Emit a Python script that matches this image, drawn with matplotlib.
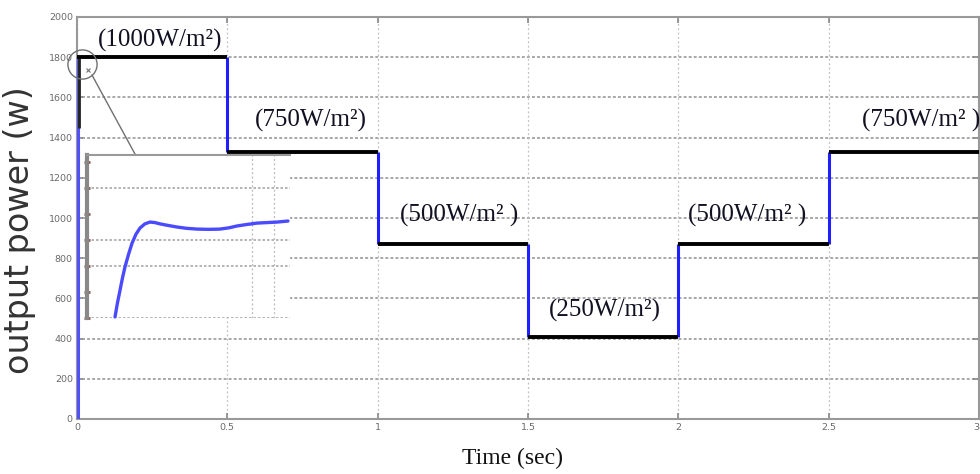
import matplotlib
matplotlib.use("Agg")
import matplotlib.pyplot as plt

# ---- data ----
step_times = [0.0, 0.5, 1.0, 1.5, 2.0, 2.5, 3.0]
step_levels = [1800, 1330, 870, 410, 870, 1330]
irr_labels = ["(1000W/m²)", "(750W/m²)", "(500W/m² )", "(250W/m²)", "(500W/m² )", "(750W/m² )"]
label_t = [0.276, 0.777, 1.272, 1.757, 2.229, 2.807]
label_p = [1885, 1487, 1015, 542, 1015, 1487]
y_ticks = list(range(0, 2001, 200))
x_ticks = [0, 0.5, 1, 1.5, 2, 2.5, 3]
x_ticklabels = ["0", "0.5", "1", "1.5", "2", "2.5", "3"]

# inset (zoomed start-up transient, arbitrary units)
inset_x = [0.138, 0.150, 0.163, 0.175, 0.187, 0.205, 0.222, 0.241, 0.261, 0.285, 0.310, 0.335, 0.360,
           0.400, 0.443, 0.490, 0.542, 0.600, 0.655, 0.700, 0.739, 0.790, 0.837, 0.886, 0.936, 0.990]
inset_y = [0.04, 0.58, 1.08, 1.55, 1.96, 2.46, 2.88, 3.22, 3.46, 3.62, 3.69, 3.67, 3.62,
           3.56, 3.50, 3.45, 3.42, 3.41, 3.42, 3.47, 3.54, 3.60, 3.65, 3.67, 3.69, 3.73]
inset_hgrid = [0, 2, 3, 5]
inset_vgrid = [0.813, 0.921]
inset_yticks = [0, 1, 2, 3, 4, 5, 6]

BLUE = "#2020ff"
SERIF = ["Liberation Serif", "DejaVu Serif"]

fig = plt.figure(figsize=(9.8, 4.74), dpi=100)
ax = fig.add_axes([77/980, 1-419/474, 902/980, (419-17)/474])
ax.set_xlim(0, 3)
ax.set_ylim(0, 2000)

# grid
for y in y_ticks:
    ax.axhline(y, color="#a8a8a8", lw=1.4, ls=(0, (1.5, 1.1)), zorder=1)
for x in x_ticks:
    ax.axvline(x, color="#c0c0c0", lw=0.9, ls=(0, (1.5, 2.0)), zorder=1)

# main step response
ax.hlines(step_levels, step_times[:-1], step_times[1:], color="black", lw=2.8, zorder=4)
trans_t = step_times[1:-1]
lo = [min(a, b) for a, b in zip(step_levels[:-1], step_levels[1:])]
hi = [max(a, b) for a, b in zip(step_levels[:-1], step_levels[1:])]
ax.vlines(trans_t, lo, hi, color=BLUE, lw=2.2, zorder=3)
ax.vlines([0.004], [0], [step_levels[0]], color="#5050ff", lw=2.2, zorder=3)
ax.vlines([0.006], [1450], [step_levels[0]], color="#222222", lw=2.0, zorder=3)

# zoom circle and connector
ax.plot([0.017], [1765], marker="o", ms=21, mfc="none", mec="#707070", mew=1.0, zorder=6, clip_on=False)
ax.plot([0.036], [1735], marker="x", ms=3, mec="#707070", mew=0.8, zorder=6)
ax.plot([0.05, 0.193], [1711, 1318], color="#707070", lw=1.0, zorder=6)

# labels
for s, t, p in zip(irr_labels, label_t, label_p):
    ax.text(t, p, s, family=SERIF, fontsize=18, color="#111122",
            ha="center", va="center", zorder=7, clip_on=False)

ax.set_xticks(x_ticks)
ax.set_xticklabels(x_ticklabels)
ax.get_xticklabels()[-1].set_horizontalalignment("right")
ax.set_yticks(y_ticks)
ax.tick_params(direction="in", length=4, width=1.2, color="#888888",
               labelsize=6.8, labelcolor="#6a6a6a", top=True, right=True, pad=3)
for sp in ax.spines.values():
    sp.set_color("#999999")
    sp.set_linewidth(1.5)

fig.text(20/980, 1-230/474, "output power (w)", rotation=90, family="DejaVu Sans",
         fontsize=24, color="#333333", ha="center", va="center")
fig.text(512/980, 1-458/474, "Time (sec)", family=SERIF, fontsize=17,
         color="#111111", ha="center", va="center")

# inset
ins = fig.add_axes([87/980, 1-318/474, 203/980, 163/474])
ins.set_facecolor("white")
ins.set_zorder(5)
ins.set_xlim(0, 1)
ins.set_ylim(0, 6.27)
for y in inset_hgrid:
    ins.axhline(y, color="#a8a8a8", lw=1.2, ls=(0, (1.5, 1.2)), zorder=1)
for x in inset_vgrid:
    ins.axvline(x, color="#b8b8b8", lw=0.9, ls=(0, (1.5, 2.0)), zorder=1)
ins.plot(inset_x, inset_y, color="#4a4aff", lw=2.4, zorder=3, clip_on=False,
         solid_joinstyle="round", solid_capstyle="round")
ins.set_xticks([])
ins.set_yticks(inset_yticks)
ins.set_yticklabels([])
ins.tick_params(axis="y", direction="inout", length=4, width=2, color="#8a5a50")
ins.spines["right"].set_visible(False)
ins.spines["bottom"].set_visible(False)
ins.spines["left"].set_color("#888888")
ins.spines["left"].set_linewidth(3)
ins.spines["top"].set_color("#999999")
ins.spines["top"].set_linewidth(1.5)

fig.savefig("out.png", dpi=100)
